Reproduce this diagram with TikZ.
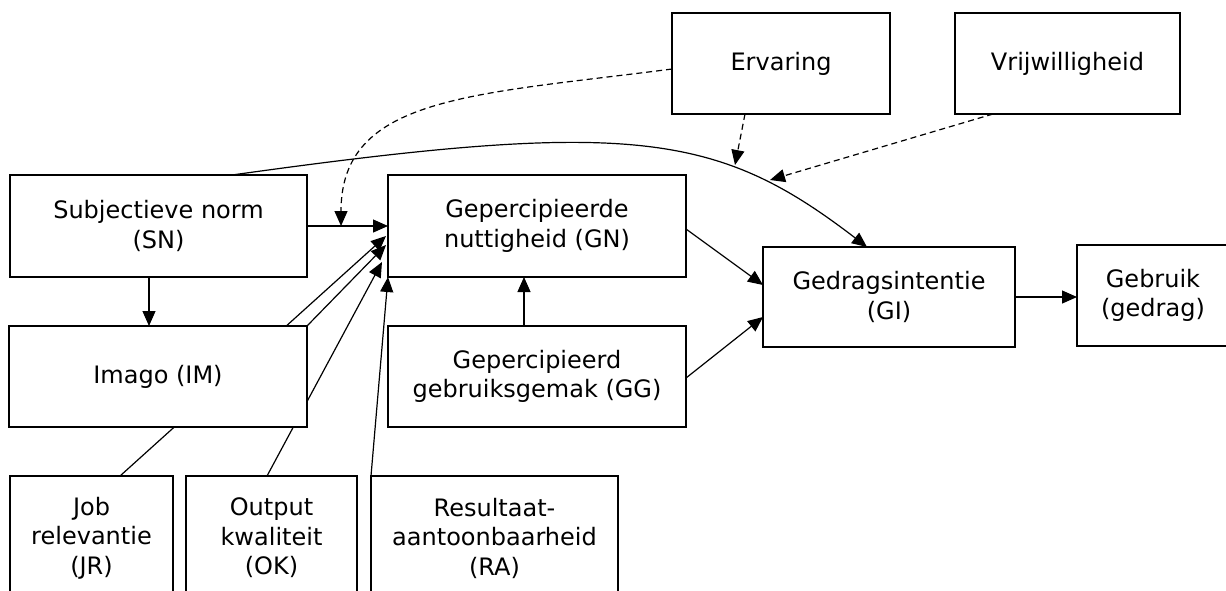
\documentclass[tikz,border=0pt]{standalone}
\usepackage{fontspec}
\setmainfont{DejaVu Sans}
\usetikzlibrary{arrows.meta,calc,backgrounds}

\begin{document}
\begin{tikzpicture}[x=1pt,y=-1pt,
  box/.style={draw,line width=1.8pt,fill=white,inner sep=0pt,outer sep=0pt,
    align=center,font=\fontsize{24}{29.5}\selectfont},
  link/.style={line width=1.2pt,-{Triangle[length=15pt,width=13pt]}},
  hint/.style={link,dash pattern=on 6pt off 4pt}]
\useasboundingbox (0,0) rectangle (1226,590);

% boxes
\node[box,minimum width=218pt,minimum height=101pt] (erv)  at (781,63.5)   {Ervaring};
\node[box,minimum width=225pt,minimum height=101pt] (vrij) at (1067.5,63.5) {Vrijwilligheid};
\node[box,minimum width=297pt,minimum height=102pt] (sn)   at (158.5,226)  {Subjectieve norm\\(SN)};
\node[box,minimum width=298pt,minimum height=102pt] (gn)   at (537,226)    {Gepercipieerde\\nuttigheid (GN)};
\node[box,minimum width=252pt,minimum height=100pt] (gi)   at (889,297)    {Gedragsintentie\\(GI)};
\node[box,minimum width=152pt,minimum height=101pt] (geb)  at (1153,295.5) {Gebruik\\(gedrag)};
\node[box,minimum width=298pt,minimum height=101pt] (im)   at (158,376.5)  {Imago (IM)};
\node[box,minimum width=298pt,minimum height=101pt] (gg)   at (537,376.5)  {Gepercipieerd\\gebruiksgemak (GG)};
\node[box,minimum width=163pt,minimum height=124pt] (jr)   at (91.5,538)   {Job\\relevantie\\(JR)};
\node[box,minimum width=171pt,minimum height=124pt] (ok)   at (271.5,538)  {Output\\kwaliteit\\(OK)};
\node[box,minimum width=247pt,minimum height=124pt] (ra)   at (494.5,538)  {Resultaat-\\aantoonbaarheid\\(RA)};

% connectors, drawn behind the boxes
\begin{scope}[on background layer]
  \draw[link] (sn) -- (gn);
  \path (sn.east) -- (gn.west) coordinate[pos=0.42] (m1);
  \draw[hint] ([yshift=-5.5pt]erv.west) .. controls (472,95) and (341,96) .. (m1);
  \draw[link] ([xshift=-9.5pt]sn.south) -- ([xshift=-9.5pt]sn.south |- im.north);
  \draw[link] ($(jr.north)+(28.5,0)$) -- ($(gn.west)+(-2,10)$);
  \draw[link] (im.north east) -- ($(gn.west)+(-2,19)$);
  \draw[link] ($(ok.north)+(-4.5,0)$) -- ($(gn.west)+(-6,36)$);
  \draw[link] (ra.north west) -- (gn.south west);
  \draw[link] ($(gg.north)+(-13,0)$) -- ($(gn.south)+(-13,0)$);
  \draw[link] ($(gn.east)+(0,3)$) -- ($(gi.west)+(0,-12)$);
  \draw[link] ($(gg.east)+(0,1.5)$) -- ($(gi.west)+(0,20)$);
  \draw[link] (gi.east) -- (gi.east -| geb.west);
  \draw[link] ($(sn.north)+(73.5,0)$) .. controls (632,119) and (717,132) .. ($(gi.north)+(-22,0)$);
  \coordinate (c1) at (735,165);
  \coordinate (c2) at (770,180);
  \draw[hint] ($(erv.south)+(-36,0)$) -- (c1);
  \draw[hint] ($(vrij.south)+(-74.5,0)$) -- (c2);
\end{scope}
\end{tikzpicture}
\end{document}
